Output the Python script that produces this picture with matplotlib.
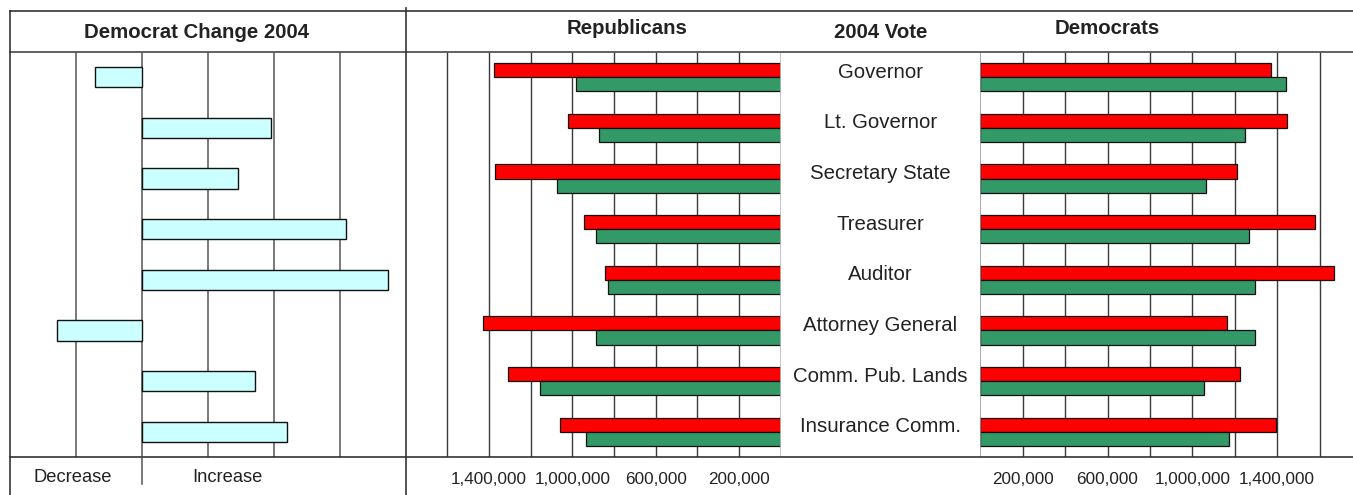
import matplotlib
matplotlib.use("Agg")
import matplotlib.pyplot as plt
import numpy as np

plt.rcParams['font.family'] = ['Liberation Sans', 'DejaVu Sans']

# ---------------- data ----------------
offices = ["Governor", "Lt. Governor", "Secretary State", "Treasurer",
           "Auditor", "Attorney General", "Comm. Pub. Lands", "Insurance Comm."]

# Democrat change 2004 (votes, 2004 minus 2000)
dem_change = [-70700, 195500, 145500, 308500, 372700, -128300, 171200, 219100]

# Republican votes
rep_2004 = [1375000, 1021000, 1370000, 943000, 841000, 1428000, 1310000, 1059000]
rep_2000 = [983000, 874000, 1074000, 884000, 830000, 884000, 1155000, 935000]

# Democrat votes
dem_2004 = [1371000, 1445000, 1209000, 1577000, 1670000, 1165000, 1224000, 1396000]
dem_2000 = [1441000, 1250000, 1065000, 1267000, 1297000, 1294000, 1054000, 1175000]

vote_ticks = [200000, 400000, 600000, 800000, 1000000, 1200000, 1400000, 1600000]
vote_tick_labels = ["200,000", "", "600,000", "", "1,000,000", "", "1,400,000", ""]
change_grid = [-100000, 0, 100000, 200000, 300000]

headers = ["Democrat Change 2004", "Republicans", "2004 Vote", "Democrats"]
bottom_labels = ["Decrease", "Increase"]

# ---------------- layout helpers ----------------
W, H = 1353, 495
fig = plt.figure(figsize=(W / 100, H / 100), dpi=100)

def rect(x0, y0, x1, y1):
    return [x0 / W, 1 - y1 / H, (x1 - x0) / W, (y1 - y0) / H]

TOP, BOT = 52, 457
RED = "#FF0000"
GREEN = "#339966"
CYAN = "#CCFFFF"
GRID = "#3a3a3a"
TXT = "#222222"

y = np.arange(len(offices))

# overlay for frame lines and header text
ov = fig.add_axes([0, 0, 1, 1], zorder=5)
ov.set_xlim(0, W)
ov.set_ylim(H, 0)
ov.axis("off")
ov.patch.set_alpha(0)

# ---------------- left panel: change ----------------
axc = fig.add_axes(rect(10, TOP, 406, BOT))
axc.set_facecolor("none")
axc.barh(y, dem_change, height=0.4, color=CYAN, edgecolor="#111111", linewidth=1.0, zorder=3)
axc.set_xlim(-200000, 400000)
axc.set_ylim(len(offices) - 0.5, -0.5)
for g in change_grid:
    axc.axvline(g, color="#555555", lw=1.1, zorder=1)
axc.set_xticks([])
axc.set_yticks([])
for s in axc.spines.values():
    s.set_visible(False)

# ---------------- Republicans ----------------
bh = 0.28
axr = fig.add_axes(rect(405.5, TOP, 780.7, BOT))
axr.set_facecolor("none")
axr.barh(y - bh / 2, rep_2004, height=bh, color=RED, edgecolor="#111111", linewidth=0.9, zorder=3)
axr.barh(y + bh / 2, rep_2000, height=bh, color=GREEN, edgecolor="#111111", linewidth=0.9, zorder=3)
axr.set_xlim(1800000, 0)
axr.set_ylim(len(offices) - 0.5, -0.5)
axr.set_xticks(vote_ticks)
axr.set_xticklabels(vote_tick_labels)
axr.grid(axis="x", color=GRID, lw=1.0, zorder=0)
axr.set_axisbelow(True)
axr.tick_params(axis="x", length=0, pad=11, labelsize=12.3, labelcolor=TXT)
axr.set_yticks([])
for s in axr.spines.values():
    s.set_visible(False)
axr.axvline(0, color="#bbbbbb", lw=1.2, zorder=4)

# ---------------- Democrats ----------------
axd = fig.add_axes(rect(980.3, TOP, 1353, BOT))
axd.set_facecolor("none")
axd.barh(y - bh / 2, dem_2004, height=bh, color=RED, edgecolor="#111111", linewidth=0.9, zorder=3)
axd.barh(y + bh / 2, dem_2000, height=bh, color=GREEN, edgecolor="#111111", linewidth=0.9, zorder=3)
axd.set_xlim(0, 1758000)
axd.set_ylim(len(offices) - 0.5, -0.5)
axd.set_xticks(vote_ticks)
axd.set_xticklabels(vote_tick_labels)
axd.grid(axis="x", color=GRID, lw=1.0, zorder=0)
axd.set_axisbelow(True)
axd.tick_params(axis="x", length=0, pad=11, labelsize=12.3, labelcolor=TXT)
axd.set_yticks([])
for s in axd.spines.values():
    s.set_visible(False)
axd.axvline(0, color="#999999", lw=1.2, zorder=4)

# ---------------- category labels (center column) ----------------
axl = fig.add_axes(rect(780.7, TOP, 980.3, BOT))
axl.set_facecolor("none")
axl.set_xlim(0, 1)
axl.set_ylim(len(offices) - 0.5, -0.5)
axl.axis("off")
for i, name in enumerate(offices):
    axl.text(0.5, i - 0.1, name, ha="center", va="center", fontsize=14.7, color=TXT)

# ---------------- frame lines ----------------
lc = "#333333"
ov.plot([10, W], [10.7, 10.7], color=lc, lw=1.2)
ov.plot([10, W], [TOP, TOP], color="#555555", lw=1.3)
ov.plot([10, W], [BOT, BOT], color=lc, lw=1.2)
ov.plot([10, 10], [10.7, H], color=lc, lw=1.2)
ov.plot([406, 406], [8, H], color=lc, lw=1.2)
ov.plot([142, 142], [BOT, 484], color="#555555", lw=1.1)

# ---------------- header text ----------------
ov.text(197, 32, headers[0], ha="center", va="center", fontsize=14.7, fontweight="bold", color=TXT)
ov.text(627, 29, headers[1], ha="center", va="center", fontsize=14.7, fontweight="bold", color=TXT)
ov.text(881, 32, headers[2], ha="center", va="center", fontsize=14.7, fontweight="bold", color=TXT)
ov.text(1107, 28, headers[3], ha="center", va="center", fontsize=14.7, fontweight="bold", color=TXT)

ov.text(72.5, 477, bottom_labels[0], ha="center", va="center", fontsize=13.2, color=TXT)
ov.text(227.5, 477, bottom_labels[1], ha="center", va="center", fontsize=13.2, color=TXT)

fig.savefig("out.png", dpi=100, facecolor="white")
